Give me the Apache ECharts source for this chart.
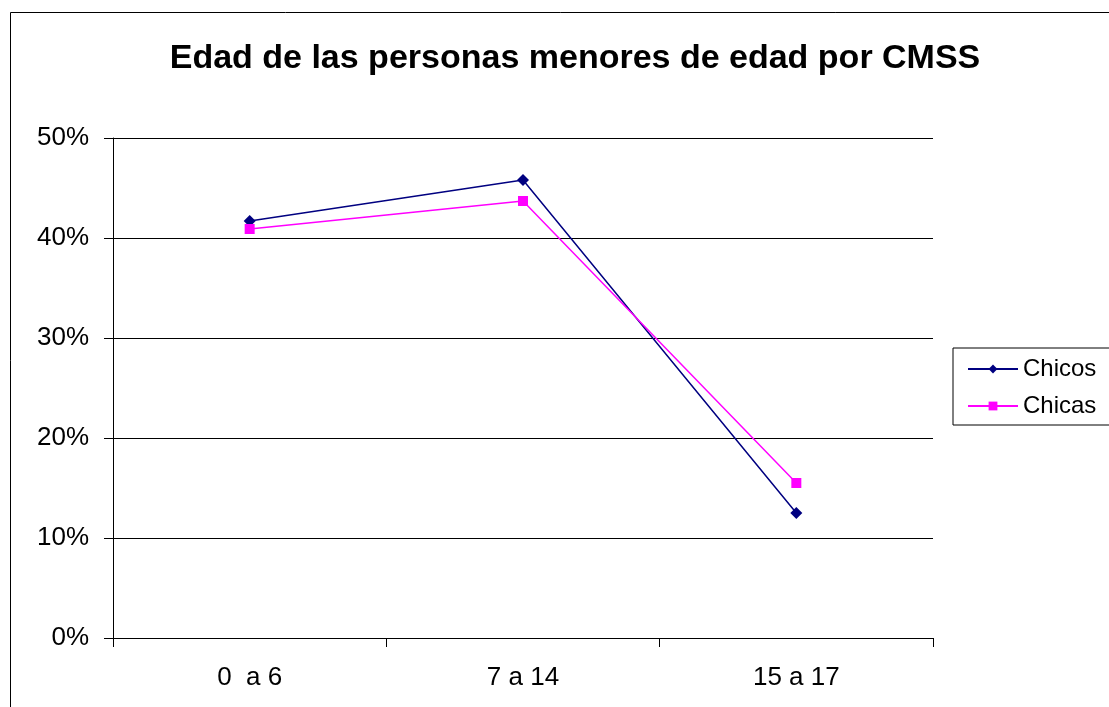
<!DOCTYPE html>
<html><head><meta charset="utf-8">
<script src="https://cdn.jsdelivr.net/npm/echarts@6/dist/echarts.min.js"></script>
<style>html,body{margin:0;padding:0;background:#fff}#c{width:1109px;height:707px}</style>
</head><body><div id="c"></div>
<script>
const categories = ['0  a 6', '7 a 14', '15 a 17'];
const chicos = [41.7, 45.8, 12.5];
const chicas = [40.9, 43.7, 15.5];
const titleText = 'Edad de las personas menores de edad por CMSS';

const chart = echarts.init(document.getElementById('c'));
const font = 'Liberation Sans, Arial, sans-serif';
chart.setOption({
  animation: false,
  backgroundColor: '#fff',
  title: {
    text: titleText, left: 570, top: 37, textAlign: 'center',
    textStyle: { fontFamily: font, fontWeight: 'bold', fontSize: 34, color: '#000' }
  },
  graphic: [{
    type: 'rect', shape: { x: 10.5, y: 12.5, width: 1200, height: 800 },
    style: { fill: 'none', stroke: '#000', lineWidth: 1 }, silent: true
  }],
  legend: {
    orient: 'vertical', left: 953, top: 348,
    padding: [9, 30, 7, 14], itemGap: 13,
    borderColor: '#000', borderWidth: 1,
    itemWidth: 50, itemHeight: 11,
    textStyle: { fontFamily: font, fontSize: 24, color: '#000' },
    data: ['Chicos', 'Chicas']
  },
  grid: { left: 113, right: 176, top: 138, bottom: 69, containLabel: false },
  xAxis: {
    type: 'category', data: categories, boundaryGap: true,
    axisLine: { lineStyle: { color: '#000', width: 1 } },
    axisTick: { show: true, length: 9, lineStyle: { color: '#000' } },
    axisLabel: { fontFamily: font, fontSize: 26, color: '#000', margin: 27 }
  },
  yAxis: {
    type: 'value', min: 0, max: 50, interval: 10,
    axisLine: { show: true, lineStyle: { color: '#000', width: 1 } },
    axisTick: { show: true, length: 9, inside: false, lineStyle: { color: '#000' } },
    axisLabel: { fontFamily: font, fontSize: 26, color: '#000', margin: 24, formatter: '{value}%' },
    splitLine: { show: true, lineStyle: { color: '#000', width: 1 } }
  },
  series: [
    { name: 'Chicos', type: 'line', data: chicos, color: '#000080',
      symbol: 'diamond', symbolSize: 12, showAllSymbol: true,
      lineStyle: { width: 1.5, color: '#000080' }, itemStyle: { color: '#000080' } },
    { name: 'Chicas', type: 'line', data: chicas, color: '#FF00FF',
      symbol: 'rect', symbolSize: 10, showAllSymbol: true,
      lineStyle: { width: 1.5, color: '#FF00FF' }, itemStyle: { color: '#FF00FF' } }
  ]
});
</script></body></html>
